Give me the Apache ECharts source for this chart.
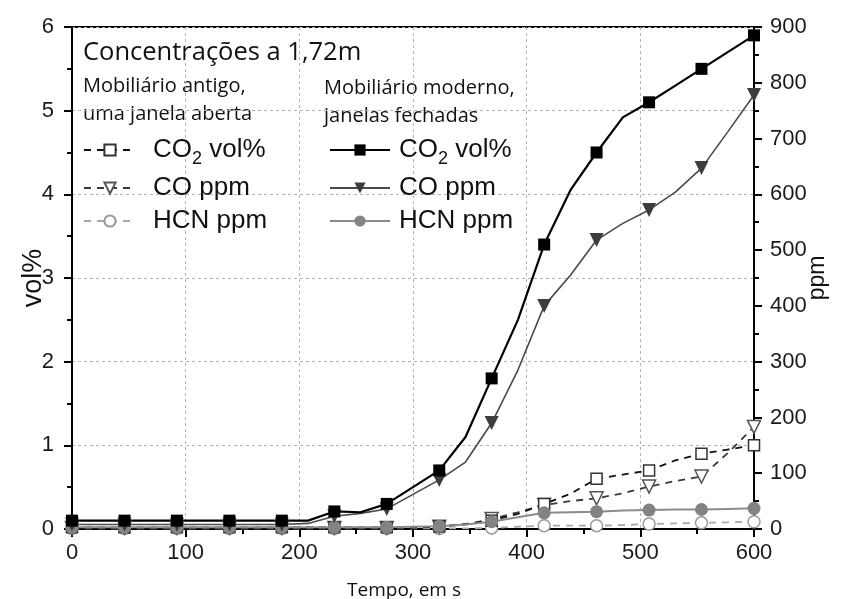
<!DOCTYPE html>
<html>
<head>
<meta charset="utf-8">
<script src="https://cdn.jsdelivr.net/npm/echarts@6/dist/echarts.min.js"></script>
<style>html,body{margin:0;padding:0;background:#fff;}#c{width:845px;height:599px;}</style>
</head>
<body>
<div id="c"></div>
<script>
// time, s
const times = [0, 23.1, 46.2, 69.2, 92.3, 115.4, 138.5, 161.5, 184.6, 207.7, 230.8, 253.8, 276.9, 300, 323.1, 346.2, 369.2, 392.3, 415.4, 438.5, 461.5, 484.6, 507.7, 530.8, 553.8, 576.9, 600];
// modern furniture, closed windows
const modernCO2 = [0.1,0.1,0.1,0.1,0.1,0.1,0.1,0.1,0.1,0.1,0.21,0.2,0.3,0.5,0.7,1.1,1.8,2.5,3.4,4.05,4.5,4.92,5.1,5.3,5.5,5.7,5.9];
const modernCO = [8,8,8,8,8,8,8,8,8,10,23,28,36,62,88,120,190,285,400,455,518,548,572,604,647,712,778];
const modernHCN = [3,3,3,3,3,3,3,3,3,3,3,3,3,4,5,8,13,21,29,30,31,33,34,35,35,36,37];
// old furniture, one open window
const oldCO2 = [0.02,0.02,0.02,0.02,0.02,0.02,0.02,0.02,0.02,0.02,0.02,0.02,0.02,0.02,0.03,0.06,0.1,0.18,0.3,0.42,0.6,0.65,0.7,0.82,0.9,0.95,1.0];
const oldCO = [2,2,2,2,2,2,2,2,2,2,2,2,2,2,4,8,18,30,43,50,55,64,76,86,94,136,183];
const oldHCN = [1,1,1,1,1,1,1,1,1,1,1,1,1,1,1,1,2,4,6,6,6,7,9,10,11,12,13];

const xTicks = {min: 0, max: 600, interval: 100};
const volTicks = {min: 0, max: 6, interval: 1};
const ppmTicks = {min: 0, max: 900, interval: 100};

const legendLabels = {
  oCO2: 'CO{sub|2} vol%', oCO: 'CO ppm', oHCN: 'HCN ppm',
  mCO2: 'CO{sub|2} vol%', mCO: 'CO ppm', mHCN: 'HCN ppm'
};

function pts(vals) {
  return vals.map((v, i) => i % 2 === 0 ? [times[i], v] : {value: [times[i], v], symbol: 'none'});
}

const chart = echarts.init(document.getElementById('c'), null, {renderer: 'canvas'});
const axisFont = {fontFamily: 'Liberation Sans', fontSize: 22, color: '#1a1a1a'};
const splitDash = {show: true, lineStyle: {color: '#b3b3b3', type: [3, 3], width: 1}};
const legendText = {
  fontFamily: 'Liberation Sans', fontSize: 26, color: '#111', lineHeight: 26,
  rich: {sub: {fontFamily: 'Liberation Sans', fontSize: 18, lineHeight: 8, verticalAlign: 'top', padding: [13, 0, 0, 0], color: '#111'}}
};

chart.setOption({
  animation: false,
  backgroundColor: '#fff',
  grid: {left: 72, right: 91, top: 27, bottom: 70, show: true, borderColor: '#000', borderWidth: 2,
         containLabel: false, outerBoundsMode: 'none'},
  graphic: [
    {type: 'text', left: 83, top: 40, style: {text: 'Concentrações a 1,72m', font: '25.5px "Open Sans"', fill: '#111'}},
    {type: 'text', left: 83, top: 76, style: {text: 'Mobiliário antigo,', font: '20px "Open Sans"', fill: '#111'}},
    {type: 'text', left: 83, top: 104, style: {text: 'uma janela aberta', font: '20px "Open Sans"', fill: '#111'}},
    {type: 'text', left: 324, top: 78, style: {text: 'Mobiliário moderno,', font: '20px "Open Sans"', fill: '#111'}},
    {type: 'text', left: 324, top: 106, style: {text: 'janelas fechadas', font: '20px "Open Sans"', fill: '#111'}}
  ],
  legend: [
    {
      data: ['oCO2', 'oCO', 'oHCN'], orient: 'vertical', left: 83, top: 137, padding: 0,
      itemWidth: 52, itemHeight: 14, itemGap: 7, selectedMode: false,
      formatter: n => legendLabels[n],
      textStyle: Object.assign({padding: [0, 0, 0, 12]}, legendText)
    },
    {
      data: ['mCO2', 'mCO', 'mHCN'], orient: 'vertical', left: 329, top: 137, padding: 0,
      itemWidth: 60, itemHeight: 14, itemGap: 7, selectedMode: false,
      formatter: n => legendLabels[n],
      textStyle: Object.assign({padding: [0, 0, 0, 4]}, legendText)
    }
  ],
  xAxis: {
    type: 'value', min: xTicks.min, max: xTicks.max, interval: xTicks.interval,
    name: 'Tempo, em s', nameLocation: 'middle', nameGap: 52, nameMoveOverlap: false,
    nameTextStyle: {fontFamily: 'Open Sans', fontSize: 19, color: '#111', padding: [0, 18, 0, 0]},
    axisLine: {show: true, onZero: false, lineStyle: {color: '#000', width: 2}},
    axisTick: {show: true, inside: false, length: 8, lineStyle: {color: '#000', width: 2}},
    minorTick: {show: true, splitNumber: 2, length: 5, lineStyle: {color: '#000', width: 2}},
    axisLabel: Object.assign({margin: 13}, axisFont),
    splitLine: splitDash
  },
  yAxis: [
    {
      type: 'value', position: 'left', min: volTicks.min, max: volTicks.max, interval: volTicks.interval,
      name: 'vol%', nameLocation: 'middle', nameGap: 25, nameRotate: 90, nameMoveOverlap: false,
      nameTextStyle: {fontFamily: 'Liberation Sans', fontSize: 27, color: '#111'},
      axisLine: {show: true, onZero: false, lineStyle: {color: '#000', width: 2}},
      axisTick: {show: true, inside: false, length: 8, lineStyle: {color: '#000', width: 2}},
      minorTick: {show: true, splitNumber: 2, length: 5, lineStyle: {color: '#000', width: 2}},
      axisLabel: Object.assign({margin: 18}, axisFont),
      splitLine: splitDash
    },
    {
      type: 'value', position: 'right', min: ppmTicks.min, max: ppmTicks.max, interval: ppmTicks.interval,
      name: 'ppm', nameLocation: 'middle', nameGap: 52, nameRotate: 90, nameMoveOverlap: false,
      nameTextStyle: {fontFamily: 'Liberation Sans', fontSize: 23, color: '#111'},
      axisLine: {show: true, onZero: false, lineStyle: {color: '#000', width: 2}},
      axisTick: {show: true, inside: false, length: 8, lineStyle: {color: '#000', width: 2}},
      minorTick: {show: true, splitNumber: 2, length: 5, lineStyle: {color: '#000', width: 2}},
      axisLabel: Object.assign({margin: 16}, axisFont),
      splitLine: {show: false}
    }
  ],
  series: [
    {
      name: 'oHCN', type: 'line', yAxisIndex: 1, data: pts(oldHCN), clip: false,
      symbol: 'circle', symbolSize: 12,
      lineStyle: {color: '#a8a8a8', width: 1.8, type: [7, 6]},
      itemStyle: {color: '#fff', borderColor: '#9a9a9a', borderWidth: 1.5}
    },
    {
      name: 'oCO', type: 'line', yAxisIndex: 1, data: pts(oldCO), clip: false,
      symbol: 'triangle', symbolRotate: 180, symbolSize: 13,
      lineStyle: {color: '#3a3a3a', width: 1.8, type: [7, 6]},
      itemStyle: {color: '#fff', borderColor: '#555', borderWidth: 1.5}
    },
    {
      name: 'oCO2', type: 'line', yAxisIndex: 0, data: pts(oldCO2), clip: false,
      symbol: 'rect', symbolSize: 11,
      lineStyle: {color: '#111', width: 1.8, type: [7, 6]},
      itemStyle: {color: '#fff', borderColor: '#333', borderWidth: 1.5}
    },
    {
      name: 'mHCN', type: 'line', yAxisIndex: 1, data: pts(modernHCN), clip: false,
      symbol: 'circle', symbolSize: 13,
      lineStyle: {color: '#8c8c8c', width: 2},
      itemStyle: {color: '#838383'}
    },
    {
      name: 'mCO', type: 'line', yAxisIndex: 1, data: pts(modernCO), clip: false,
      symbol: 'triangle', symbolRotate: 180, symbolSize: 14,
      lineStyle: {color: '#4a4a4a', width: 1.6},
      itemStyle: {color: '#3d3d3d'}
    },
    {
      name: 'mCO2', type: 'line', yAxisIndex: 0, data: pts(modernCO2), clip: false,
      symbol: 'rect', symbolSize: 12,
      lineStyle: {color: '#000', width: 2.2},
      itemStyle: {color: '#000'}
    }
  ]
});
</script>
</body>
</html>
